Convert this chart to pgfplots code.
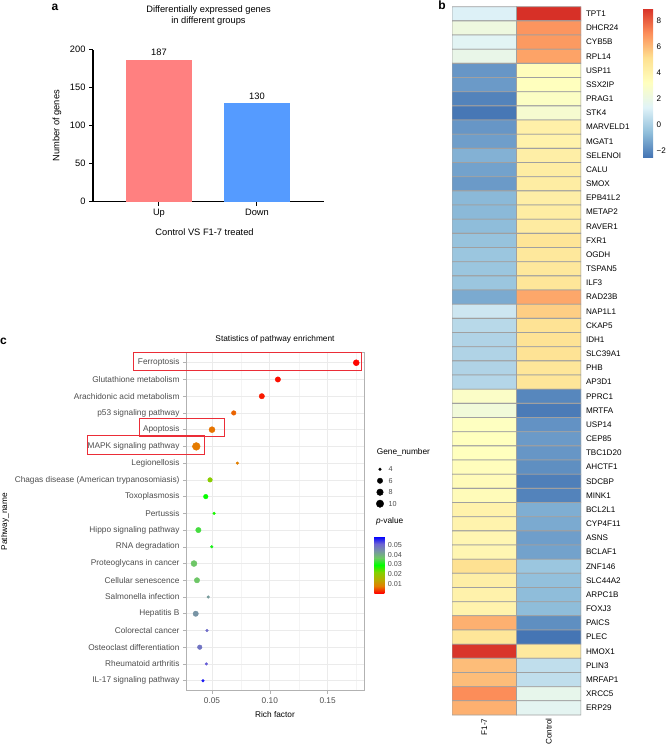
\documentclass[border=0pt]{standalone}
\usepackage{fontspec}
\setmainfont{Liberation Sans}
\usepackage{pgfplots}
\pgfplotsset{compat=1.18, /pgf/number format/assume math mode=true}
\definecolor{upc}{RGB}{255,128,128}
\definecolor{downc}{RGB}{85,155,255}
\definecolor{boxred}{RGB}{235,45,55}
\definecolor{g30}{RGB}{77,77,77}
\definecolor{cellb}{RGB}{160,160,160}
\newcommand\fA{\fontsize{9.3}{11}\selectfont}
\newcommand\fB{\fontsize{8.1}{9.5}\selectfont}
\newcommand\fC{\fontsize{8.3}{9.5}\selectfont}
\newcommand\fD{\fontsize{7.2}{8}\selectfont}
\begin{document}
\begin{tikzpicture}[x=1pt,y=1pt]
\path[use as bounding box] (0,0) rectangle (667,748);
\node[font=\fontsize{12}{14}\selectfont\bfseries] at (55,741) {a};
\node[font=\fontsize{12}{14}\selectfont\bfseries] at (442,742.5) {b};
\node[font=\fontsize{12}{14}\selectfont\bfseries] at (3.5,407) {c};

% ---------------- panel a ----------------
\begin{axis}[
  at={(93pt,546.3pt)}, anchor=south west, scale only axis,
  width=231pt, height=152pt,
  xmin=-0.673, xmax=1.684, ymin=0, ymax=200,
  axis lines=left, axis line style={-, line width=1.1pt},
  xtick={0,1}, xticklabels={Up,Down},
  ytick={0,50,100,150,200},
  tick align=outside, major tick length=4pt, tick style={line width=1pt, black},
  ticklabel style={font=\fA},
  title={Differentially expressed genes\\in different groups},
  title style={align=center, font=\fA, at={(axis description cs:0.5,1)}, anchor=south, inner sep=0pt, yshift=18pt},
  ylabel={Number of genes},
  every axis y label/.style={at={(axis description cs:-0.156,0.5)}, rotate=90, anchor=center, font=\fA},
  xlabel={Control VS F1-7 treated},
  every axis x label/.style={at={(axis description cs:0.483,0)}, anchor=center, yshift=-30.3pt, font=\fA},
  nodes near coords, every node near coord/.append style={font=\fA},
]
\addplot[ybar, bar shift=0pt, bar width=66pt, fill=upc, draw=none] coordinates {(0,187)};
\addplot[ybar, bar shift=0pt, bar width=66pt, fill=downc, draw=none] coordinates {(1,130)};
\end{axis}

% ---------------- panel b ----------------
\begin{axis}[
  at={(452pt,33pt)}, anchor=south west, scale only axis,
  width=129pt, height=708.3pt,
  xmin=-0.5, xmax=1.5, ymin=-0.5, ymax=49.5, y dir=reverse,
  axis line style={draw=none},
  xtick={0,1}, xticklabels={F1-7,Control},
  xticklabel style={rotate=90, anchor=east, font=\fB},
  ytick={0,...,49},
  yticklabels={TPT1,DHCR24,CYB5B,RPL14,USP11,SSX2IP,PRAG1,STK4,MARVELD1,MGAT1,SELENOI,CALU,SMOX,EPB41L2,METAP2,RAVER1,FXR1,OGDH,TSPAN5,ILF3,RAD23B,NAP1L1,CKAP5,IDH1,SLC39A1,PHB,AP3D1,PPRC1,MRTFA,USP14,CEP85,TBC1D20,AHCTF1,SDCBP,MINK1,BCL2L1,CYP4F11,ASNS,BCLAF1,ZNF146,SLC44A2,ARPC1B,FOXJ3,PAICS,PLEC,HMOX1,PLIN3,MRFAP1,XRCC5,ERP29},
  yticklabel pos=right,
  yticklabel style={anchor=west, font=\fB, xshift=1.5pt},
  major tick length=0pt, tick style={draw=none},
  colormap={rdylbu}{rgb255=(69,117,180) rgb255=(145,191,219) rgb255=(224,243,248) rgb255=(255,255,191) rgb255=(254,224,144) rgb255=(252,141,89) rgb255=(215,48,39)},
  point meta min=-2.46, point meta max=9.0,
  colorbar,
  colorbar style={
    at={(parent axis.north east)}, anchor=north west, xshift=53.5pt, yshift=-1.3pt,
    scale only axis, width=10pt, height=149pt,
    ytick={-2,0,2,4,6,8}, yticklabels={−2,0,2,4,6,8},
    yticklabel pos=right, yticklabel style={font=\fB},
    axis line style={draw=none}, major tick length=0pt, tick style={draw=none},
  },
]
\addplot[matrix plot*, shader=faceted, faceted color=cellb, line width=0.8pt, mesh/cols=2, point meta=explicit] table[meta=v] {
x y v
0 0 1.3
1 0 9.0
0 1 2.2
1 1 6.9
0 2 1.5
1 2 6.8
0 3 1.9
1 3 6.6
0 4 -1.6
1 4 3.4
0 5 -1.5
1 5 3.3
0 6 -2.1
1 6 3.1
0 7 -2.4
1 7 2.7
0 8 -1.6
1 8 4.2
0 9 -1.4
1 9 4.1
0 10 -0.9
1 10 4.3
0 11 -1.3
1 11 4.4
0 12 -1.5
1 12 4.4
0 13 -0.7
1 13 4.3
0 14 -0.7
1 14 4.4
0 15 -0.6
1 15 4.5
0 16 -0.4
1 16 4.9
0 17 -0.3
1 17 4.7
0 18 -0.3
1 18 4.7
0 19 -0.3
1 19 4.8
0 20 -1.1
1 20 6.5
0 21 0.9
1 21 5.6
0 22 0.4
1 22 5.0
0 23 0.2
1 23 5.0
0 24 0.2
1 24 5.0
0 25 0.2
1 25 4.8
0 26 0.3
1 26 4.8
0 27 3.0
1 27 -2.0
0 28 2.4
1 28 -2.3
0 29 3.2
1 29 -1.7
0 30 3.3
1 30 -1.5
0 31 3.3
1 31 -1.6
0 32 3.4
1 32 -1.8
0 33 3.5
1 33 -2.2
0 34 3.5
1 34 -2.1
0 35 4.1
1 35 -1.0
0 36 4.0
1 36 -1.1
0 37 3.8
1 37 -1.4
0 38 3.8
1 38 -1.3
0 39 5.1
1 39 -0.3
0 40 4.3
1 40 -0.5
0 41 4.1
1 41 -0.6
0 42 4.0
1 42 -0.6
0 43 6.3
1 43 -1.8
0 44 4.8
1 44 -2.46
0 45 8.9
1 45 4.6
0 46 6.0
1 46 0.6
0 47 6.0
1 47 0.6
0 48 7.1
1 48 1.8
0 49 6.3
1 49 1.6
};
\end{axis}

% ---------------- panel c ----------------
\begin{axis}[
  at={(186pt,57.3pt)}, anchor=south west, scale only axis,
  width=178pt, height=338pt,
  xmin=0.0275, xmax=0.1815, ymin=0.4, ymax=20.6, y dir=reverse,
  scaled x ticks=false,
  xtick={0.05,0.10,0.15}, xticklabels={0.05,0.10,0.15},
  minor xtick={0.075,0.125,0.175},
  ytick={1,...,20},
  yticklabels={Ferroptosis,Glutathione metabolism,Arachidonic acid metabolism,p53 signaling pathway,Apoptosis,MAPK signaling pathway,Legionellosis,Chagas disease (American trypanosomiasis),Toxoplasmosis,Pertussis,Hippo signaling pathway,RNA degradation,Proteoglycans in cancer,Cellular senescence,Salmonella infection,Hepatitis B,Colorectal cancer,Osteoclast differentiation,Rheumatoid arthritis,IL-17 signaling pathway},
  xtick pos=bottom, ytick pos=left,
  grid=both, major grid style={draw=gray!16, line width=0.6pt}, minor grid style={draw=gray!9, line width=0.35pt},
  axis line style={gray!60, line width=0.6pt},
  tick align=outside, major tick length=3pt, minor tick length=0pt, tick style={gray!60, line width=0.5pt},
  ticklabel style={font=\fC, text=g30},
  title={Statistics of pathway enrichment},
  title style={at={(axis description cs:0.5,1)}, anchor=center, yshift=7.7pt, font=\fC},
  xlabel={Rich factor},
  every axis x label/.style={at={(axis description cs:0.5,0)}, anchor=center, yshift=-24.3pt, font=\fC},
  ylabel={Pathway\_name},
  every axis y label/.style={at={(axis description cs:-1.017,0.5)}, rotate=90, anchor=center, font=\fC},
  colormap={pv}{rgb255=(255,0,0) rgb255=(228,125,0) rgb255=(180,175,0) rgb255=(130,210,0) rgb255=(0,255,0) rgb255=(110,200,100) rgb255=(120,148,165) rgb255=(110,100,210) rgb255=(0,0,255)},
  point meta min=0, point meta max=0.0587,
  colorbar,
  colorbar style={
    at={(parent axis.north east)}, anchor=north west, xshift=1.8pt, yshift=-184pt,
    scale only axis, width=10pt, height=56.6pt,
    scaled y ticks=false,
    ytick={0.01,0.02,0.03,0.04,0.05}, yticklabels={0.01,0.02,0.03,0.04,0.05},
    yticklabel pos=right, yticklabel style={font=\fD, text=g30},
    axis line style={draw=none}, major tick length=0pt, tick style={draw=none},
    title={\textit{p}-value},
    title style={at={(axis description cs:0,1)}, anchor=south west, inner sep=0pt, xshift=1.5pt, yshift=5pt, font=\fC},
  },
]
\addplot[scatter, only marks, mark=*, point meta=explicit,
  scatter/use mapped color={draw=mapped color, fill=mapped color},
  visualization depends on={1.335+0.9655*sqrt(\thisrow{g}-4) \as \rad},
  scatter/@pre marker code/.append style={/tikz/mark size=\rad}]
  table[x=x, y=y, meta=p] {
x y g p
0.1748 1 7 0.0003
0.1070 2 6 0.0008
0.0931 3 6 0.0015
0.0688 4 5 0.0058
0.0500 5 7 0.0068
0.0364 6 11 0.0072
0.0720 7 4 0.0076
0.0483 8 5 0.0210
0.0446 9 5 0.0290
0.0518 10 4 0.0280
0.0382 11 6 0.0340
0.0498 12 4 0.0310
0.0344 13 7 0.0370
0.0370 14 6 0.0370
0.0468 15 4 0.0430
0.0359 16 6 0.0440
0.0457 17 4 0.0500
0.0394 18 5 0.0490
0.0451 19 4 0.0520
0.0422 20 4 0.0570
};
\end{axis}

% gene number legend
\begin{axis}[
  at={(375pt,244.3pt)}, anchor=south west, scale only axis,
  width=10pt, height=34.4pt, xmin=-1, xmax=1, ymin=0, ymax=3, y dir=reverse,
  clip=false, axis line style={draw=none}, xtick=\empty,
  ytick={0,1,2,3}, yticklabels={4,6,8,10}, yticklabel pos=right,
  yticklabel style={font=\fD, text=g30},
  major tick length=0pt, tick style={draw=none},
  title={Gene\_number},
  title style={at={(axis description cs:0,1)}, anchor=south west, inner sep=0pt, xshift=1.7pt, yshift=7pt, font=\fC},
]
\addplot[only marks, mark=*, black,
  visualization depends on={1.335+0.9655*sqrt(\thisrow{g}-4) \as \rad},
  scatter, point meta=explicit, scatter/use mapped color={draw=black, fill=black},
  scatter/@pre marker code/.append style={/tikz/mark size=\rad}]
  table[x=x, y=y, meta=g] {
x y g
0 0 4
0 1 6
0 2 8
0 3 10
};
\end{axis}

% highlight boxes
\draw[boxred, line width=1pt] (133.3,377) rectangle (361.7,395.3);
\draw[boxred, line width=1pt] (139,311.3) rectangle (224,329.7);
\draw[boxred, line width=1pt] (87.3,293) rectangle (204,312.3);
\end{tikzpicture}
\end{document}
